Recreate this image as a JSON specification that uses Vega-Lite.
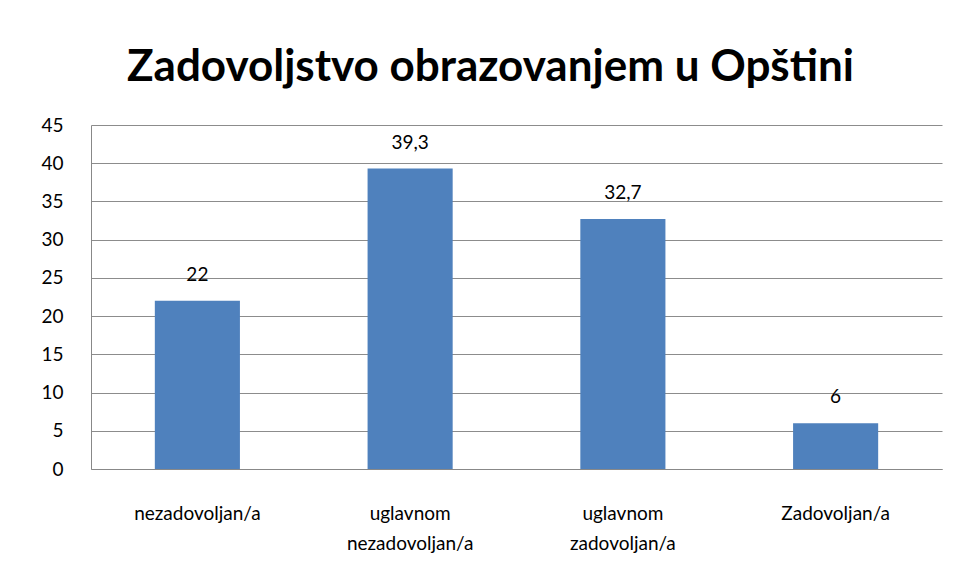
{
  "$schema": "https://vega.github.io/schema/vega-lite/v6.json",
  "width": 851,
  "height": 344,
  "autosize": "none",
  "padding": {"left": 91, "top": 125, "right": 15, "bottom": 111},
  "background": "white",
  "title": {
    "text": "Zadovoljstvo obrazovanjem u Opštini",
    "font": "Lato",
    "fontSize": 44,
    "fontWeight": "bold",
    "color": "#000000",
    "anchor": "middle",
    "dx": -26,
    "offset": 26
  },
  "data": {
    "values": [
      {"kategorija": "nezadovoljan/a", "vrijednost": 22, "label": "22"},
      {"kategorija": "uglavnom nezadovoljan/a", "vrijednost": 39.3, "label": "39,3"},
      {"kategorija": "uglavnom zadovoljan/a", "vrijednost": 32.7, "label": "32,7"},
      {"kategorija": "Zadovoljan/a", "vrijednost": 6, "label": "6"}
    ]
  },
  "encoding": {
    "x": {
      "field": "kategorija",
      "type": "nominal",
      "sort": null,
      "scale": {"paddingInner": 0.6, "paddingOuter": 0.3},
      "axis": {
        "title": null,
        "labelAngle": 0,
        "ticks": false,
        "domain": true,
        "domainColor": "#888888",
        "labelFont": "Lato",
        "labelFontSize": 19,
        "labelColor": "#000000",
        "labelPadding": 35,
        "labelBaseline": "top",
        "labelLineHeight": 30,
        "labelExpr": "datum.label == 'uglavnom nezadovoljan/a' ? ['uglavnom','nezadovoljan/a'] : datum.label == 'uglavnom zadovoljan/a' ? ['uglavnom','zadovoljan/a'] : datum.label"
      }
    },
    "y": {
      "field": "vrijednost",
      "type": "quantitative",
      "scale": {"domain": [0, 45]},
      "axis": {
        "title": null,
        "values": [0, 5, 10, 15, 20, 25, 30, 35, 40, 45],
        "ticks": false,
        "domain": true,
        "domainColor": "#888888",
        "grid": true,
        "gridColor": "#8c8c8c",
        "gridWidth": 1,
        "labelFont": "Lato",
        "labelFontSize": 19,
        "labelColor": "#000000",
        "labelPadding": 28
      }
    }
  },
  "layer": [
    {"mark": {"type": "bar", "color": "#4F81BD"}},
    {
      "mark": {"type": "text", "dy": -16, "baseline": "bottom", "font": "Lato", "fontSize": 19, "color": "#000000"},
      "encoding": {"text": {"field": "label"}}
    }
  ],
  "config": {"view": {"stroke": null}}
}
